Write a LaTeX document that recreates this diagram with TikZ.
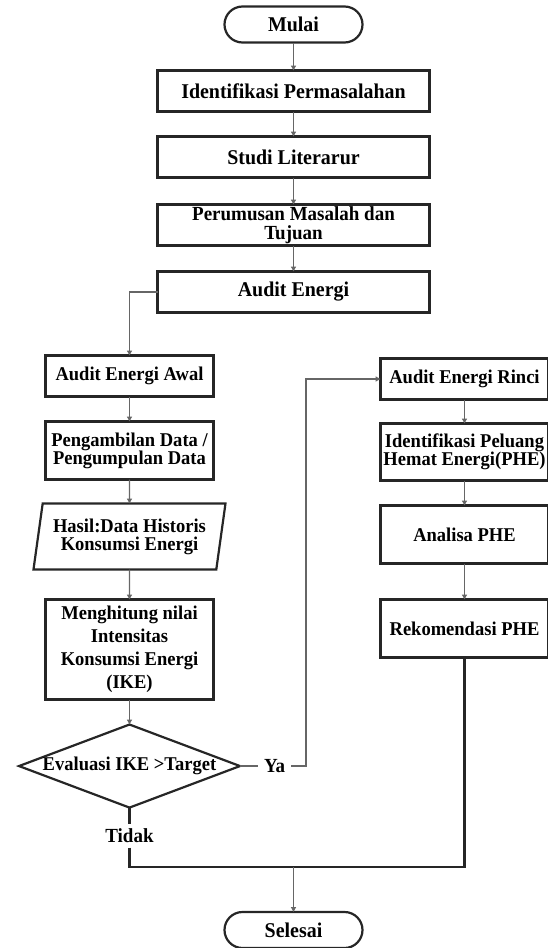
\documentclass[tikz,border=0pt]{standalone}
\usepackage{fontspec}
\setmainfont{Liberation Serif}[FakeStretch=0.95]
\usetikzlibrary{arrows.meta,positioning,shapes.geometric}

\begin{document}
\begin{tikzpicture}[x=1pt,y=-1pt,>={Triangle[length=5pt,width=5pt]},
  font=\bfseries\fontsize{21}{18}\selectfont,node distance=27pt,
  box/.style={draw=black!85,line width=2.2pt,align=center,inner sep=2pt,outer sep=0pt},
  term/.style={box,rounded corners=18pt,minimum width=138pt,minimum height=36pt},
  topbox/.style={box,minimum width=272pt,minimum height=41pt},
  colbox/.style={box,font=\bfseries\fontsize{19.5}{18}\selectfont,minimum width=168pt},
  io/.style={box,font=\bfseries\fontsize{19.5}{18}\selectfont,trapezium,
    trapezium left angle=77,trapezium right angle=103,trapezium stretches body,
    minimum width=192pt,minimum height=66pt},
  dec/.style={box,font=\bfseries\fontsize{19.5}{18}\selectfont,diamond,aspect=2.66,
    inner sep=0pt,minimum width=221pt,minimum height=83pt},
  lbl/.style={inner xsep=6pt,inner ysep=5pt,outer sep=0pt,font=\bfseries\fontsize{20}{18}\selectfont},
  flow/.style={draw=black!60,line width=1.3pt,->},
  joinline/.style={draw=black!85,line width=2.2pt}]
\useasboundingbox (0,0) rectangle (547,948);
% main column
\node[term] (mulai) at (293.5,24.5) {Mulai};
\node[topbox,below=28pt of mulai] (ident) {Identifikasi Permasalahan};
\node[topbox,below=25pt of ident] (studi) {Studi Literarur};
\node[topbox,below=27pt of studi,inner ysep=0pt,font=\bfseries\fontsize{20}{19.5}\selectfont] (perum) {Perumusan Masalah dan\\Tujuan};
\node[topbox,below=26pt of perum] (audit) {Audit Energi};
% left column
\node[colbox,minimum height=41pt,below=43pt of audit.south west,anchor=north,xshift=-28pt] (awal) {Audit Energi Awal};
\node[colbox,minimum height=58pt,below=25pt of awal] (ambil) {Pengambilan Data /\\Pengumpulan Data};
\node[io,below=24pt of ambil] (hasil) {Hasil:Data Historis\\Konsumsi Energi};
\node[colbox,minimum height=100pt,below=30pt of hasil,font=\bfseries\fontsize{19.5}{23}\selectfont] (hitung) {Menghitung nilai\\Intensitas\\Konsumsi Energi\\(IKE)};
\node[dec,below=25pt of hitung] (eval) {Evaluasi IKE >Target};
\node[lbl,right=18pt of eval] (ya) {Ya};
\node[lbl,below=16pt of eval] (tidak) {Tidak};
% right column
\node[colbox,minimum height=41pt,below=46pt of audit.south east,anchor=north,xshift=35pt] (rinci) {Audit Energi Rinci};
\node[colbox,minimum height=57pt,below=24pt of rinci] (peluang) {Identifikasi Peluang\\Hemat Energi(PHE)};
\node[colbox,minimum height=58pt,below=25pt of peluang] (analisa) {Analisa PHE};
\node[colbox,minimum height=58pt,below=36pt of analisa] (rekom) {Rekomendasi PHE};
% end
\coordinate (merge) at (293.5,867);
\coordinate[right=15pt of ya] (yaturn);
\node[term,below=45pt of merge] (selesai) {Selesai};
% connectors
\draw[flow] (mulai) -- (ident);
\draw[flow] (ident) -- (studi);
\draw[flow] (studi) -- (perum);
\draw[flow] (perum) -- (audit);
\draw[flow] (audit.west) -| (awal.north);
\draw[flow] (awal) -- (ambil);
\draw[flow] (ambil) -- (hasil);
\draw[flow] (hasil) -- (hitung);
\draw[flow] (hitung) -- (eval);
\draw[flow,-] (eval.east) -- (ya.west);
\draw[flow] (ya.east) -- (yaturn) |- (rinci.west);
\draw[flow] (rinci) -- (peluang);
\draw[flow] (peluang) -- (analisa);
\draw[flow] (analisa) -- (rekom);
\draw[joinline] (eval.south) -- (tidak.north);
\draw[joinline] (tidak.south) |- (merge) -| (rekom.south);
\draw[flow] (merge) -- (selesai);
\end{tikzpicture}
\end{document}
